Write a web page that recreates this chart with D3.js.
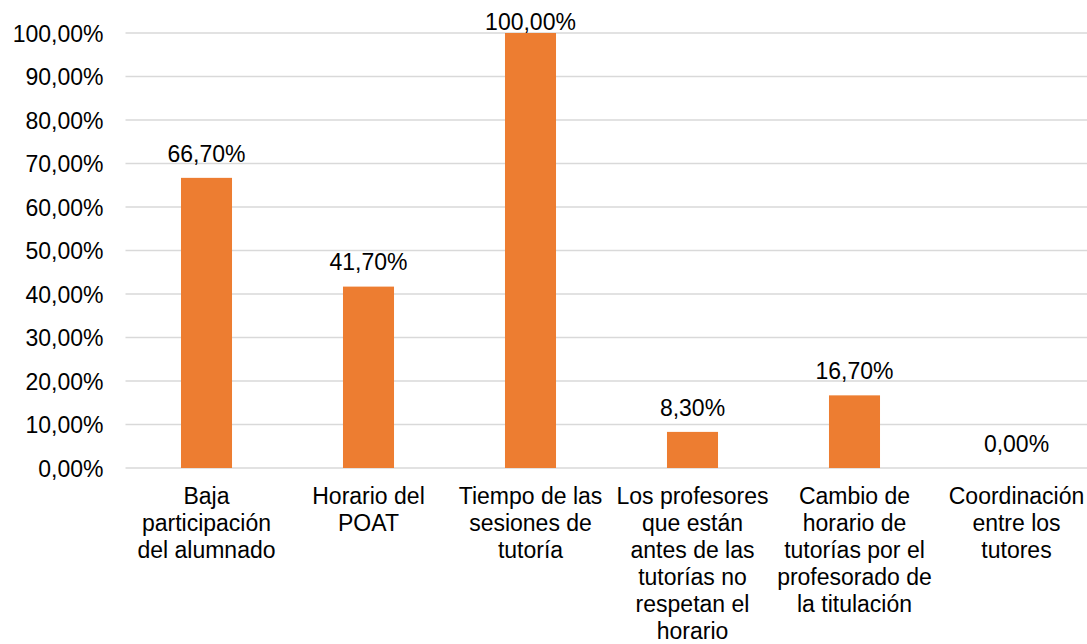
<!DOCTYPE html>
<html>
<head>
<meta charset="utf-8">
<script src="https://cdn.jsdelivr.net/npm/d3@7"></script>
<style>
  body { margin: 0; background: #fff; }
  svg text { font-family: "Liberation Sans", Arial, sans-serif; font-size: 23px; fill: #000; }
</style>
</head>
<body>
<svg id="chart"></svg>
<script>
// datos
let categories = [
    ["Baja", "participación", "del alumnado"],
    ["Horario del", "POAT"],
    ["Tiempo de las", "sesiones de", "tutoría"],
    ["Los profesores", "que están", "antes de las", "tutorías no", "respetan el", "horario"],
    ["Cambio de", "horario de", "tutorías por el", "profesorado de", "la titulación"],
    ["Coordinación", "entre los", "tutores"]
];
let values = [0.667, 0.417, 1.0, 0.083, 0.167, 0.0];
let yTicks = [0, 0.1, 0.2, 0.3, 0.4, 0.5, 0.6, 0.7, 0.8, 0.9, 1.0];

let width = 1087,
    height = 644,
    margin = {top: 33, left: 125.5, right: -10.5, bottom: 176};

let esES = d3.formatLocale({decimal: ",", thousands: ".", grouping: [3], currency: ["", " €"]});
let pct = esES.format(".2%");

let svg = d3.select("#chart")
    .attr("width", width)
    .attr("height", height);

let xScale = d3.scaleBand()
    .domain(d3.range(categories.length))
    .range([margin.left, width - margin.right])
    .paddingInner(0.685)
    .paddingOuter(0.3425);

let yScale = d3.scaleLinear()
    .domain([0, 1])
    .range([height - margin.bottom, margin.top]);

// lineas de cuadricula
svg.append("g")
    .selectAll("line")
    .data(yTicks)
    .enter()
    .append("line")
    .attr("x1", margin.left)
    .attr("x2", width)
    .attr("y1", d => yScale(d))
    .attr("y2", d => yScale(d))
    .attr("stroke", "#d9d9d9")
    .attr("stroke-width", 1.3);

// eje y
let yAxis = svg.append("g")
    .attr("transform", "translate(" + (margin.left - 22) + ",0)")
    .call(d3.axisLeft(yScale).tickValues(yTicks).tickFormat(pct).tickSize(0).tickPadding(0));
yAxis.select(".domain").remove();
yAxis.selectAll("text")
    .attr("font-size", null)
    .attr("font-family", null)
    .attr("fill", null)
    .attr("dy", "0.35em");

// barras
svg.append("g")
    .selectAll("rect")
    .data(values)
    .enter()
    .append("rect")
    .attr("x", (d, i) => xScale(i))
    .attr("width", xScale.bandwidth())
    .attr("y", d => yScale(d))
    .attr("height", d => yScale(0) - yScale(d))
    .style("fill", "#ED7D31");

// etiquetas de datos
svg.append("g")
    .selectAll("text")
    .data(values)
    .enter()
    .append("text")
    .attr("text-anchor", "middle")
    .attr("x", (d, i) => xScale(i) + xScale.bandwidth() / 2)
    .attr("y", d => Math.max(yScale(d) - 16.3, 30))
    .text(d => pct(d));

// etiquetas de categorias
let cat = svg.append("g")
    .selectAll("text")
    .data(categories)
    .enter()
    .append("text")
    .attr("text-anchor", "middle")
    .attr("x", (d, i) => xScale(i) + xScale.bandwidth() / 2)
    .attr("y", yScale(0) + 36);

cat.selectAll("tspan")
    .data((d, i) => d.map(t => ({t: t, i: i})))
    .enter()
    .append("tspan")
    .attr("x", d => xScale(d.i) + xScale.bandwidth() / 2)
    .attr("dy", (d, j) => j === 0 ? 0 : 27)
    .text(d => d.t);
</script>
</body>
</html>
